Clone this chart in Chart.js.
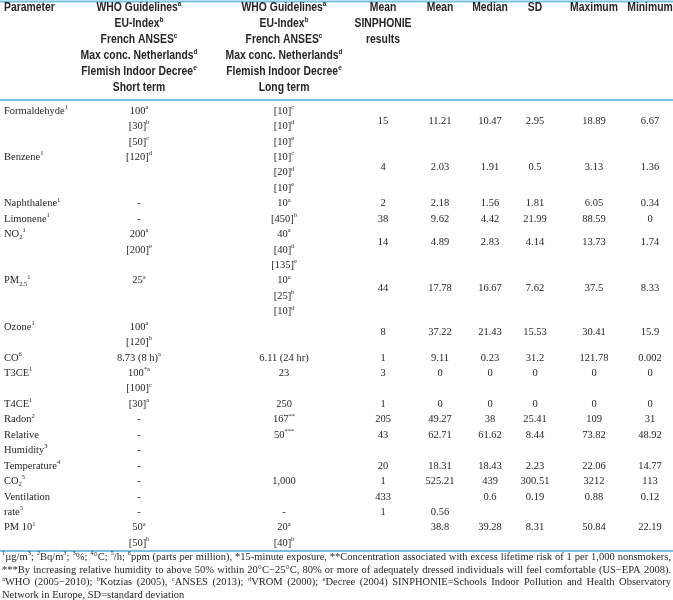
<!DOCTYPE html>
<html>
<head>
<meta charset="utf-8">
<script src="https://cdn.jsdelivr.net/npm/chart.js@4.4.0/dist/chart.umd.min.js"></script>
<style>
  html, body { margin: 0; padding: 0; background: #fff; }
  #wrap { width: 673px; height: 600px; }
</style>
</head>
<body>
<div id="wrap"><canvas id="tbl" width="673" height="600"></canvas></div>
<script>
// ---- table content ----
var parameters = [
    ["Formaldehyde^{1}"], ["Benzene^{1}"], ["Naphthalene^{1}"], ["Limonene^{1}"],
    ["NO_{2}^{1}"], ["PM_{2.5}^{1}"], ["Ozone^{1}"], ["CO^{6}"], ["T3CE^{1}"], ["T4CE^{1}"],
    ["Radon^{2}"], ["Relative", "Humidity^{3}"], ["Temperature^{4}"], ["CO_{2}^{5}"],
    ["Ventilation", "rate^{5}"], ["PM 10^{1}"]
];
var shortTerm = [
    ["100^{a}", "[30]^{b}", "[50]^{c}"], ["[120]^{d}"], ["-"], ["-"],
    ["200^{a}", "[200]^{e}"], ["25^{a}"], ["100^{a}", "[120]^{b}"], ["8.73 (8 h)^{a}"],
    ["100^{*a}", "[100]^{c}"], ["[30]^{a}"], ["-"], ["-", "-"], ["-"], ["-"],
    ["-", "-"], ["50^{a}", "[50]^{b}"]
];
var longTerm = [
    ["[10]^{c}", "[10]^{d}", "[10]^{e}"], ["[10]^{c}", "[20]^{d}", "[10]^{e}"], ["10^{a}"], ["[450]^{b}"],
    ["40^{a}", "[40]^{d}", "[135]^{e}"], ["10^{a}", "[25]^{b}", "[10]^{d}"], [], ["6.11 (24 hr)"],
    ["23"], ["250"], ["167^{**}"], ["50^{***}"], [], ["1,000"],
    ["", "-"], ["20^{a}", "[40]^{b}"]
];
// numeric rows (the ventilation group has two rows in the source)
var sinphonie = [15, 4, 2, 38, 14, 44, 8, 1, 3, 1, 205, 43, 20, 1, 433, 1, null];
var meanVals = [11.21, 2.03, 2.18, 9.62, 4.89, 17.78, 37.22, 9.11, 0, 0, 49.27, 62.71, 18.31, 525.21, null, 0.56, 38.8];
var medianVals = [10.47, 1.91, 1.56, 4.42, 2.83, 16.67, 21.43, 0.23, 0, 0, 38, 61.62, 18.43, 439, 0.6, null, 39.28];
var sdVals = [2.95, 0.5, 1.81, 21.99, 4.14, 7.62, 15.53, 31.2, 0, 0, 25.41, 8.44, 2.23, 300.51, 0.19, null, 8.31];
var maxVals = [18.89, 3.13, 6.05, 88.59, 13.73, 37.5, 30.41, 121.78, 0, 0, 109, 73.82, 22.06, 3212, 0.88, null, 50.84];
var minVals = [6.67, 1.36, 0.34, 0, 1.74, 8.33, 15.9, 0.002, 0, 0, 31, 48.92, 14.77, 113, 0.12, null, 22.19];

var guideHead = ["WHO Guidelines^{a}", "EU-Index^{b}", "French ANSES^{c}", "Max conc. Netherlands^{d}", "Flemish Indoor Decree^{e}"];
var headers = [
    ["Parameter"],
    guideHead.concat(["Short term"]),
    guideHead.concat(["Long term"]),
    ["Mean", "SINPHONIE", "results"],
    ["Mean"], ["Median"], ["SD"], ["Maximum"], ["Minimum"]
];
var footnotes = [
    "^{1}µg/m^{3}; ^{2}Bq/m^{3}; ^{3}%; ^{4}°C; ^{5}/h; ^{6}ppm (parts per million), *15-minute exposure, **Concentration associated with excess lifetime risk of 1 per 1,000 nonsmokers,",
    "***By increasing relative humidity to above 50% within 20°C\u221225°C, 80% or more of adequately dressed individuals will feel comfortable (US\u2212EPA 2008).",
    "^{a}WHO (2005\u22122010); ^{b}Kotzias (2005), ^{c}ANSES (2013); ^{d}VROM (2000); ^{e}Decree (2004) SINPHONIE=Schools Indoor Pollution and Health Observatory",
    "Network in Europe, SD=standard deviation"
];

// ---- layout ----
var colX = [4, 139, 284, 383, 440, 490, 535, 594, 650];
var headTop = 8, headStep = 16;
var bodyTop = 111, bodyStep = 15.43;
var footTop = 557.5, footStep = 12.6;
var ruleY = [1.5, 100, 551];
var numGroup = [0, 1, 2, 3, 4, 5, 6, 7, 8, 9, 10, 11, 12, 13, 14, 14, 15];
var numOffset = [0.65, 0.65, 0, 0, 0.5, 0.5, 0.35, 0, 0, 0, 0, 0, 0, 0, 0, 1, 0];

var serif = "'Liberation Serif', 'Times New Roman', serif";
var narrow = "'Liberation Sans Narrow', 'Liberation Sans', sans-serif";
var textColor = "#262626";
var ruleColor = "#74c1e3";

// line index where every parameter group starts
var groupStart = [];
var line = 0;
parameters.forEach(function(p, i) {
    groupStart.push(line);
    line += Math.max(p.length, shortTerm[i].length, longTerm[i].length);
});

function bodyY(l) { return bodyTop + l * bodyStep; }

// ---- datasets: every cell becomes a point carrying its text ----
var cells = { head: [], param: [], guide: [], num: [], foot: [] };

headers.forEach(function(lines, c) {
    lines.forEach(function(t, k) {
        cells.head.push({ x: colX[c], y: headTop + k * headStep, text: t, align: c === 0 ? "left" : "center" });
    });
});
parameters.forEach(function(lines, g) {
    lines.forEach(function(t, k) {
        cells.param.push({ x: colX[0], y: bodyY(groupStart[g] + k), text: t, align: "left" });
    });
    shortTerm[g].forEach(function(t, k) {
        cells.guide.push({ x: colX[1], y: bodyY(groupStart[g] + k), text: t, align: "center" });
    });
    longTerm[g].forEach(function(t, k) {
        cells.guide.push({ x: colX[2], y: bodyY(groupStart[g] + k), text: t, align: "center" });
    });
});
[sinphonie, meanVals, medianVals, sdVals, maxVals, minVals].forEach(function(arr, c) {
    arr.forEach(function(v, r) {
        if (v === null) return;
        cells.num.push({ x: colX[c + 3], y: bodyY(groupStart[numGroup[r]] + numOffset[r]), text: String(v), align: "center" });
    });
});
footnotes.forEach(function(t, k) {
    cells.foot.push({ x: 2, y: footTop + k * footStep, text: t, align: "left", justify: k < footnotes.length - 1 });
});

// ---- rich text helpers ----
function parseRich(s) {
    var segs = [], re = /([\^_])\{([^}]*)\}/g, last = 0, m;
    while ((m = re.exec(s))) {
        if (m.index > last) segs.push({ t: s.slice(last, m.index), m: 0 });
        segs.push({ t: m[2], m: m[1] === "^" ? 1 : -1 });
        last = re.lastIndex;
    }
    if (last < s.length) segs.push({ t: s.slice(last), m: 0 });
    return segs;
}

function fontFor(f, mode) {
    var size = mode === 0 ? f.size : f.size * 0.62;
    return f.weight + " " + size + "px " + f.family;
}

function richWidth(ctx, segs, f) {
    var w = 0;
    segs.forEach(function(s) {
        ctx.font = fontFor(f, s.m);
        w += ctx.measureText(s.t).width;
    });
    return w;
}

function drawSegs(ctx, segs, x, y, f) {
    segs.forEach(function(s) {
        ctx.font = fontFor(f, s.m);
        var dy = s.m === 1 ? -f.size * 0.36 : (s.m === -1 ? f.size * 0.3 : 0);
        ctx.fillText(s.t, x, y + dy);
        x += ctx.measureText(s.t).width;
    });
    return x;
}

function drawCell(ctx, p, px, py, f, fullWidth) {
    if (p.justify) {
        var words = p.text.split(" ").map(parseRich);
        var total = 0;
        words.forEach(function(w) { total += richWidth(ctx, w, f); });
        var gap = (fullWidth - total) / (words.length - 1);
        var x = px;
        words.forEach(function(w) { x = drawSegs(ctx, w, x, py, f) + gap; });
        return;
    }
    var segs = parseRich(p.text);
    var sx = f.scaleX || 1;
    var w = richWidth(ctx, segs, f) * sx;
    var start = p.align === "center" ? px - w / 2 : px;
    ctx.save();
    ctx.translate(start, py);
    ctx.scale(sx, 1);
    drawSegs(ctx, segs, 0, 0, f);
    ctx.restore();
}

var tableText = {
    id: "tableText",
    afterDatasetsDraw: function(chart) {
        var ctx = chart.ctx;
        var xs = chart.scales.x, ys = chart.scales.y;
        ctx.save();

        ctx.strokeStyle = ruleColor;
        ctx.lineWidth = 2;
        ruleY.forEach(function(v) {
            var y = ys.getPixelForValue(v);
            ctx.beginPath();
            ctx.moveTo(xs.left, y);
            ctx.lineTo(xs.right, y);
            ctx.stroke();
        });

        ctx.fillStyle = textColor;
        ctx.textBaseline = "middle";
        chart.data.datasets.forEach(function(ds) {
            ds.data.forEach(function(p) {
                drawCell(ctx, p, xs.getPixelForValue(p.x), ys.getPixelForValue(p.y), ds.textFont,
                    xs.getPixelForValue(671) - xs.getPixelForValue(p.x));
            });
        });
        ctx.restore();
    }
};

function textSet(label, data, family, size, weight, scaleX) {
    return {
        label: label,
        data: data,
        pointRadius: 0,
        showLine: false,
        textFont: { family: family, size: size, weight: weight, scaleX: scaleX }
    };
}

var chart = new Chart(document.getElementById("tbl").getContext("2d"), {
    type: "scatter",
    data: {
        datasets: [
            textSet("header", cells.head, narrow, 12.5, "bold", 0.83),
            textSet("parameter", cells.param, serif, 10.5, "normal"),
            textSet("guidelines", cells.guide, serif, 10.5, "normal"),
            textSet("results", cells.num, serif, 10.5, "normal"),
            textSet("footnotes", cells.foot, serif, 10.5, "normal")
        ]
    },
    plugins: [tableText],
    options: {
        responsive: false,
        animation: false,
        events: [],
        layout: { padding: 0 },
        plugins: { legend: { display: false }, tooltip: { enabled: false } },
        scales: {
            x: { type: "linear", min: 0, max: 673, display: false },
            y: { type: "linear", min: 0, max: 600, reverse: true, display: false }
        }
    }
});
</script>
</body>
</html>
